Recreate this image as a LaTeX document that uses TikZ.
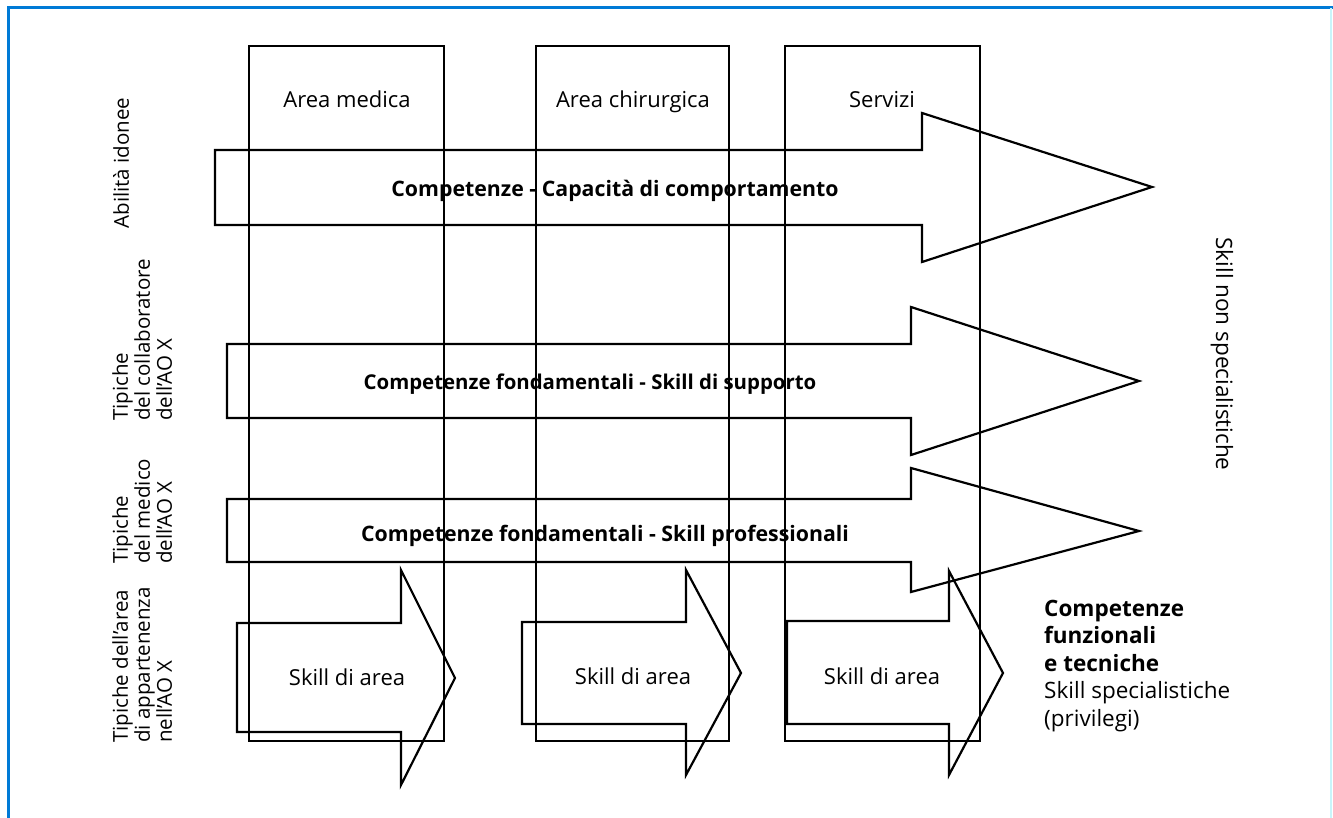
\documentclass[tikz,border=0pt]{standalone}
\usepackage{fontspec}
\setmainfont{Open Sans}
\begin{document}
\begin{tikzpicture}[x=1pt,y=-1pt,
  outl/.style={draw=black,line width=2.2pt,line join=miter},
  lbl/.style={font=\fontsize{22}{26}\selectfont,inner sep=0pt,anchor=base},
  blbl/.style={font=\fontsize{21.3}{25}\selectfont\bfseries,inner sep=0pt,anchor=base},
  side/.style={font=\fontsize{20.5}{22}\selectfont,inner sep=0pt,align=left},
  rlbl/.style={font=\fontsize{22.5}{27.5}\selectfont,inner sep=0pt,anchor=base west}]
\useasboundingbox (0,0) rectangle (1333,818);
\fill[white] (0,0) rectangle (1333,818);
% frame
\draw[line width=3pt,draw={rgb,255:red,0;green,122;blue,214}] (8,818) -- (8,8) -- (1333,8);
\draw[line width=2pt,draw={rgb,255:red,200;green,245;blue,250}] (1331,8) -- (1331,818);
% columns
\draw[outl] (249,46) rectangle (444,741);
\draw[outl] (536,46) rectangle (729,741);
\draw[outl] (785,46) rectangle (980,741);
\newcommand\fatarrow[8]{\draw[outl] (#1,#2) -- (#4,#2) -- (#4,#5) -- (#7,#8) -- (#4,#6) -- (#4,#3) -- (#1,#3) -- cycle;}
\fatarrow{215}{150}{225}{922}{113}{262}{1152}{187}
\fatarrow{227}{344}{418}{911}{307}{455}{1139}{381}
\fatarrow{227}{499}{562}{911}{468}{592}{1139}{531}
\fatarrow{237}{623}{732}{401}{570}{785}{455}{678}
\fatarrow{522}{622}{724}{686}{570}{775}{741}{673}
\fatarrow{787}{621}{724}{949}{571}{775}{1003}{673}
% column titles
\node[lbl] (t1) at (347,108) {Area medica};
\node[lbl] (t2) at (633,108) {Area chirurgica};
\node[lbl] (t3) at (882,108) {Servizi};
% arrow labels
\node[blbl] (a1) at (615,197) {Competenze - Capacità di comportamento};
\node[blbl,font=\fontsize{20.4}{24}\selectfont\bfseries] (a2) at (590,389) {Competenze fondamentali - Skill di supporto};
\node[blbl] (a3) at (605,541) {Competenze fondamentali - Skill professionali};
\node[lbl] (s1) at (347,685) {Skill di area};
\node[lbl] (s2) at (633,684) {Skill di area};
\node[lbl] (s3) at (882,684) {Skill di area};
% left labels
\node[side,rotate=90] (l1) at (121,163) {Abilità idonee};
\node[side,rotate=90,anchor=north west] (l2) at (112,421) {Tipiche\\del collaboratore\\dell’AO X};
\node[side,rotate=90,anchor=north west] (l3) at (112,564) {Tipiche\\del medico\\dell’AO X};
\node[side,rotate=90,anchor=north west] (l4) at (112,743) {Tipiche dell’area\\di appartenenza\\nell’AO X};
% right labels
\node[side,rotate=-90,font=\fontsize{22.5}{26}\selectfont] (r1) at (1222,354) {Skill non specialistiche};
\node[rlbl] (r2a) at (1044,616) {\bfseries Competenze};
\node[rlbl] (r2b) at (1044,643.5) {\bfseries funzionali};
\node[rlbl] (r2c) at (1044,671) {\bfseries e tecniche};
\node[rlbl] (r2d) at (1044,698.5) {Skill specialistiche};
\node[rlbl] (r2e) at (1044,726) {(privilegi)};
\end{tikzpicture}
\end{document}
